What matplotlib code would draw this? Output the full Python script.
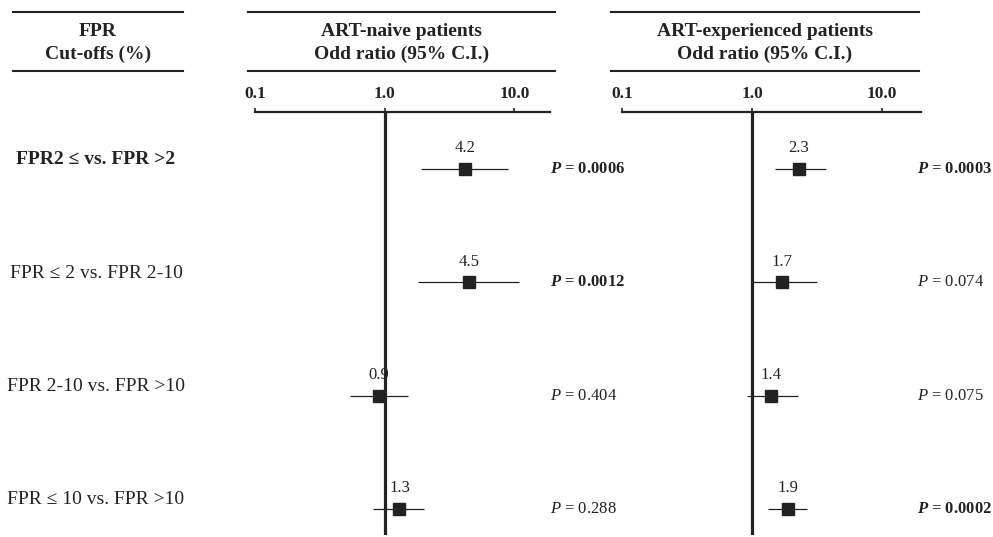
import numpy as np
import matplotlib.pyplot as plt
from matplotlib.lines import Line2D
from matplotlib.transforms import blended_transform_factory

plt.rcParams['font.family'] = ['Liberation Serif', 'DejaVu Serif']
plt.rcParams['mathtext.fontset'] = 'custom'
plt.rcParams['mathtext.it'] = 'Liberation Serif:italic'
plt.rcParams['mathtext.bf'] = 'Liberation Serif:italic:bold'
plt.rcParams['mathtext.rm'] = 'Liberation Serif'

# data
rows = ["FPR2 \u2264 vs. FPR >2", "FPR \u2264 2 vs. FPR 2-10",
        "FPR 2-10 vs. FPR >10", "FPR \u2264 10 vs. FPR >10"]
row_bold = [True, False, False, False]

naive_or = [4.2, 4.5, 0.9, 1.3]
naive_lo = [1.9, 1.8, 0.54, 0.82]
naive_hi = [9.0, 10.9, 1.51, 2.0]
naive_p = ["0.0006", "0.0012", "0.404", "0.288"]
naive_sig = [True, True, False, False]

exp_or = [2.3, 1.7, 1.4, 1.9]
exp_lo = [1.5, 0.98, 0.92, 1.33]
exp_hi = [3.7, 3.16, 2.26, 2.65]
exp_p = ["0.0003", "0.074", "0.075", "0.0002"]
exp_sig = [True, False, False, True]

ticks = [0.1, 1.0, 10.0]
tick_labels = ["0.1", "1.0", "10.0"]

W, H = 993, 537
fig = plt.figure(figsize=(W / 100, H / 100), dpi=100)


def fx(px):
    return px / W


def fy(py):
    return 1 - py / H


def hline(x0, x1, y):
    fig.add_artist(Line2D([fx(x0), fx(x1)], [fy(y), fy(y)], color='#222222', lw=1.5))


# header
headers = [("FPR\nCut-offs (%)", 13, 183),
           ("ART-naive patients\nOdd ratio (95% C.I.)", 248, 555),
           ("ART-experienced patients\nOdd ratio (95% C.I.)", 611, 919)]
for txt, x0, x1 in headers:
    hline(x0, x1, 12)
    hline(x0, x1, 71)
    fig.text(fx((x0 + x1) / 2), fy(43), txt, ha='center', va='center',
             fontsize=14, fontweight='bold', color='#222222', linespacing=1.45)


def panel(left_px, right_px, xmax, ors, los, his, pvals, sig, p_x):
    ax = fig.add_axes([fx(left_px), fy(535), fx(right_px - left_px), (535 - 112) / H])
    ax.set_xscale('log')
    ax.set_xlim(0.1, xmax)
    ax.set_ylim(3.23, -0.5)
    y = np.arange(len(ors))
    ax.hlines(y, los, his, color='#222222', lw=0.9)
    ax.plot(ors, y, 's', color='#222222', ms=8)
    ax.axvline(1.0, color='#222222', lw=2.3)
    for yi, v in zip(y, ors):
        ax.annotate(f"{v:.1f}", (v, yi), xytext=(0, 9), textcoords='offset points',
                    ha='center', va='bottom', fontsize=12, color='#222222')
    tr = blended_transform_factory(ax.transAxes, ax.transData)
    for yi, p, s in zip(y, pvals, sig):
        if s:
            ax.text(p_x, yi, r"$\mathbf{P}$ = " + p, transform=tr, ha='left', va='center',
                    fontsize=12, fontweight='bold', color='#222222')
        else:
            ax.text(p_x, yi, r"$\mathit{P}$ = " + p, transform=tr, ha='left', va='center',
                    fontsize=12, color='#222222')
    for side in ['left', 'right', 'bottom']:
        ax.spines[side].set_visible(False)
    ax.spines['top'].set_linewidth(1.6)
    ax.spines['top'].set_color('#222222')
    ax.xaxis.set_ticks_position('top')
    ax.set_xticks(ticks)
    ax.set_xticklabels(tick_labels, fontsize=12.5, fontweight='bold', color='#222222')
    ax.xaxis.set_minor_locator(plt.NullLocator())
    ax.tick_params(axis='x', direction='out', length=3, width=1.2, pad=4, colors='#222222')
    ax.set_yticks([])
    ax.patch.set_alpha(0)
    return ax


ax1 = panel(255, 550, 10 ** 1.275, naive_or, naive_lo, naive_hi, naive_p, naive_sig, 1.0)
ax2 = panel(622, 921, 10 ** 1.3, exp_or, exp_lo, exp_hi, exp_p, exp_sig, (917 - 622) / 299)

# row labels
tr = blended_transform_factory(fig.transFigure, ax1.transData)
for i, (lab, b) in enumerate(zip(rows, row_bold)):
    fig.text(fx(96), i - 0.08, lab, transform=tr, ha='center', va='center',
             fontsize=14, fontweight='bold' if b else 'normal', color='#222222')

fig.savefig('out.png', dpi=100)
